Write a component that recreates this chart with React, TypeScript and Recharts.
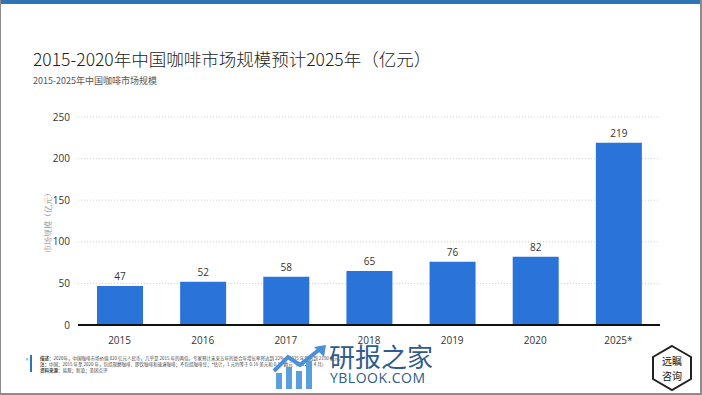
import React from "react";
import {
  BarChart,
  Bar,
  XAxis,
  YAxis,
  CartesianGrid,
  LabelList,
} from "recharts";

const years = ["2015", "2016", "2017", "2018", "2019", "2020", "2025*"];
const marketSize = [47, 52, 58, 65, 76, 82, 219];
const yTicks = [0, 50, 100, 150, 200, 250];

const data = years.map((year, i) => ({ year, value: marketSize[i] }));

const FONT = "'Open Sans', 'Noto Sans CJK SC', sans-serif";
const CJK = "'Noto Sans CJK SC', 'Open Sans', sans-serif";

export default function App() {
  return (
    <div
      style={{
        position: "absolute",
        left: 0,
        top: 0,
        width: 702,
        height: 395,
        background: "#fff",
        fontFamily: CJK,
        overflow: "hidden",
      }}
    >
      {/* frame */}
      <div style={{ position: "absolute", left: 0, top: 0, width: 702, height: 4, background: "#2e75b6" }} />
      <div style={{ position: "absolute", left: 0, top: 0, width: 1, height: 395, background: "#8c8c8c" }} />
      <div style={{ position: "absolute", right: 0, top: 0, width: 2, height: 395, background: "#8c8c8c" }} />
      <div style={{ position: "absolute", left: 0, bottom: 0, width: 702, height: 2, background: "#8c8c8c" }} />

      <div
        style={{
          position: "absolute",
          left: 33,
          top: 47,
          fontSize: 17.5,
          fontWeight: 300,
          color: "#222",
          fontFamily: CJK,
          whiteSpace: "nowrap",
          lineHeight: "24px",
        }}
      >
        2015-2020年中国咖啡市场规模预计2025年（亿元）
      </div>
      <div
        style={{
          position: "absolute",
          left: 33,
          top: 75,
          fontSize: 9,
          color: "#555",
          whiteSpace: "nowrap",
          lineHeight: "11px",
        }}
      >
        2015-2025年中国咖啡市场规模
      </div>

      <div style={{ position: "absolute", left: 0, top: 0 }}>
        <BarChart
          width={702}
          height={395}
          data={data}
          margin={{ top: 117, right: 42, bottom: 50, left: 18 }}
        >
          <CartesianGrid
            vertical={false}
            stroke="#cfcfcf"
            strokeDasharray="1 2"
          />
          <XAxis
            dataKey="year"
            height={20}
            axisLine={{ stroke: "#111", strokeWidth: 2 }}
            tickLine={false}
            tickMargin={6}
            tick={{ fill: "#333", fontSize: 10, fontFamily: FONT }}
          />
          <YAxis
            width={60}
            domain={[0, 250]}
            ticks={yTicks}
            axisLine={false}
            tickLine={false}
            tickSize={0}
            tickMargin={8}
            tick={{ fill: "#333", fontSize: 10, fontFamily: FONT }}
            label={{
              value: "市场规模（亿元）",
              angle: -90,
              position: "center",
              fill: "#888",
              fontSize: 8,
              fontFamily: "'Noto Serif CJK SC', 'Noto Sans CJK SC', serif",
            }}
          />
          <Bar dataKey="value" fill="#2a74d9" barSize={46} isAnimationActive={false}>
            <LabelList
              dataKey="value"
              position="top"
              offset={6}
              fill="#333"
              fontSize={10}
              fontFamily={FONT}
            />
          </Bar>
        </BarChart>
      </div>

      {/* footer notes */}
      <div style={{ position: "absolute", left: 26, top: 356, fontSize: 4, color: "#3d6fb0" }}>9</div>
      <div style={{ position: "absolute", left: 30, top: 355, width: 2, height: 17, background: "#2e75b6" }} />
      <div
        style={{
          position: "absolute",
          left: 40,
          top: 355,
          fontSize: 4.5,
          lineHeight: "6px",
          color: "#444",
          whiteSpace: "nowrap",
        }}
      >
        <div><b>描述：</b>2020年，中国咖啡市场价值 820 亿元人民币，几乎是 2015 年的两倍。专家预计未来五年的复合年增长率将达到 22%，2025 年将达到 2190 亿元。</div>
        <div><b>注：</b>中国；2015 年至 2020 年，包括现磨咖啡、即饮咖啡和速溶咖啡；不包括咖啡豆；*估计，1 元约等于 0.16 美元和 0.14 欧元（2022 年 4 月）</div>
        <div><b>资料来源：</b>易观；新浪；美团点评</div>
      </div>

      {/* watermark */}
      <svg style={{ position: "absolute", left: 270, top: 345 }} width={60} height={45}>
        <rect x={6} y={28} width={6} height={16} fill="#5aa0dc" />
        <rect x={16} y={22} width={6} height={22} fill="#5aa0dc" />
        <rect x={26} y={26} width={6} height={18} fill="#5aa0dc" />
        <rect x={36} y={16} width={6} height={28} fill="#5aa0dc" />
        <polyline points="4,26 18,12 30,20 50,4" fill="none" stroke="#4a90d6" strokeWidth={4} />
        <polygon points="44,2 56,0 54,12" fill="#4a90d6" />
      </svg>
      <div
        style={{
          position: "absolute",
          left: 329,
          top: 343,
          fontSize: 26,
          color: "#2f5c8c",
          whiteSpace: "nowrap",
          lineHeight: "26px",
        }}
      >
        研报之家
      </div>
      <div
        style={{
          position: "absolute",
          left: 330,
          top: 370,
          fontSize: 14,
          color: "#2f5c8c",
          whiteSpace: "nowrap",
          lineHeight: "16px",
          fontFamily: FONT,
          letterSpacing: 0.5,
        }}
      >
        YBLOOK.COM
      </div>

      {/* logo */}
      <svg style={{ position: "absolute", left: 650, top: 344 }} width={44} height={48}>
        <polygon points="22,2 41,13 41,35 22,46 3,35 3,13" fill="#fff" stroke="#222" strokeWidth={2} />
        <text x={22} y={21} textAnchor="middle" fontSize={10} fill="#111" fontFamily={CJK}>远瞩</text>
        <text x={22} y={36} textAnchor="middle" fontSize={10} fill="#111" fontFamily={CJK}>咨询</text>
      </svg>
    </div>
  );
}
